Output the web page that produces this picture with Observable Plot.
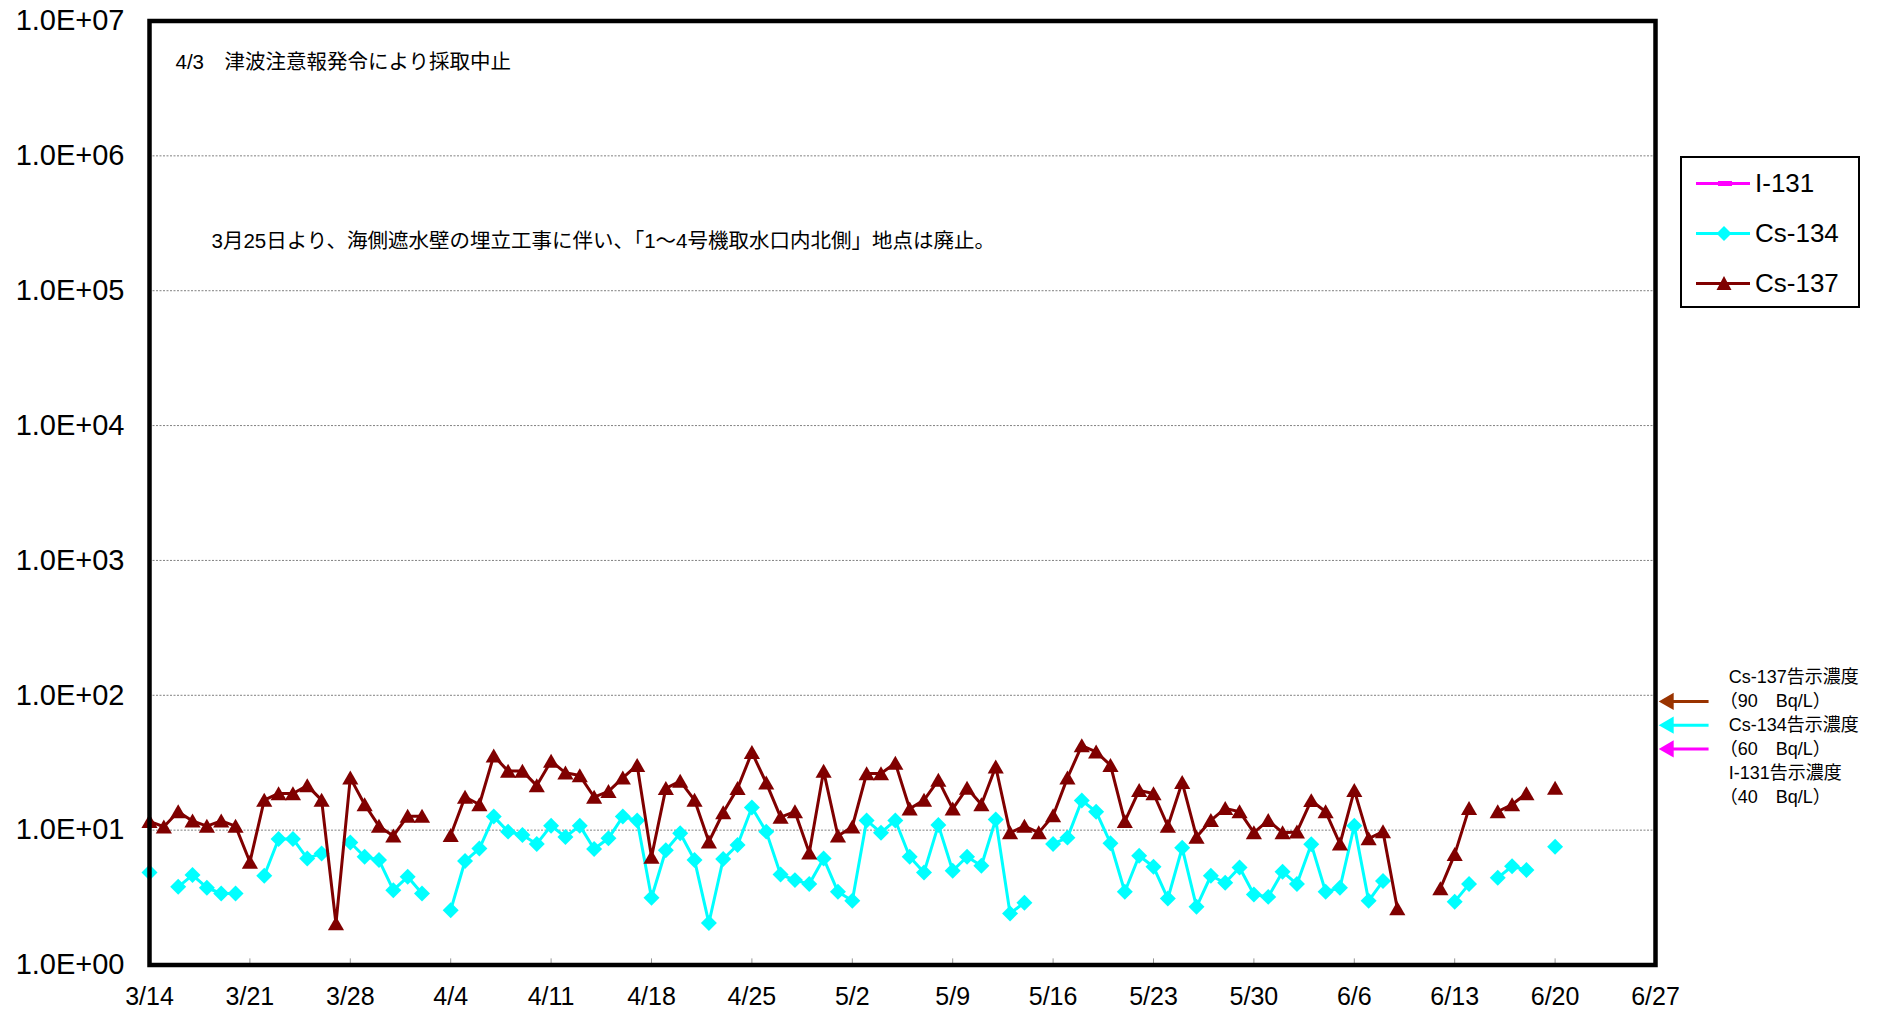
<!DOCTYPE html>
<html><head><meta charset="utf-8">
<script src="https://cdn.jsdelivr.net/npm/d3@7"></script>
<script src="https://cdn.jsdelivr.net/npm/@observablehq/plot@0.6"></script>
<style>
body{margin:0;background:#fff;overflow:hidden}
#wrap{position:relative;width:1881px;height:1013px}
#legend{position:absolute;left:1680px;top:156px;width:176px;height:148px;border:2px solid #000;background:#fff;font-family:"Liberation Sans",Arial,sans-serif;font-size:26px;color:#000}
.item{position:absolute;left:14px;height:34px;display:flex;align-items:center}
.item svg{margin-right:4px}
</style></head>
<body><div id="wrap"><div id="chart"></div><div id="legend"></div></div>
<script>
// ---- data ----
const year = 2015;
const startDay = "3/14"; // first sample day; one value per day after it
const cs137 = [11.6,10.6,13.7,11.7,10.7,11.7,10.7,5.8,16.7,18.7,18.7,21.4,16.7,2.03,24.4,15.5,10.7,9.06,12.7,12.7,
  null,9.15,17.6,15.5,35.6,27.4,27.4,21.4,32.5,26.6,25.4,17.6,19.4,24.4,30.3,6.32,20.4,23.1,16.7,8.2,
  13.5,20.4,37.7,22.4,12.5,13.7,6.8,27.4,9.06,10.6,26.3,26.3,31.4,14.4,16.7,23.5,14.4,20.5,15.5,29.5,
  9.58,10.7,9.58,12.8,24.4,42.3,38.1,30.3,11.6,19.7,18.7,10.7,22.6,8.9,11.8,14.5,13.7,9.58,11.8,9.58,
  9.7,16.6,13.7,7.9,19.7,8.65,9.75,2.62,null,null,3.69,6.61,14.5,null,13.7,15.5,18.7,null,20.5];
const cs134 = [4.86,null,3.80,4.64,3.74,3.39,3.39,null,4.59,8.6,8.6,6.17,6.72,null,8.1,6.35,6.0,3.59,4.51,3.39,
  null,2.55,5.9,7.3,12.6,9.75,9.2,7.9,10.8,8.9,10.8,7.25,8.7,12.6,11.8,3.15,7.1,9.47,6.0,2.05,
  6.1,7.76,14.7,9.75,4.69,4.26,3.98,6.17,3.49,2.99,11.8,9.58,11.8,6.35,4.86,10.9,5.0,6.35,5.45,12.0,
  2.41,2.9,null,7.9,8.8,16.6,13.7,8.0,3.49,6.46,5.35,3.11,7.4,2.7,4.59,4.07,5.29,3.33,3.2,4.92,
  3.98,7.85,3.49,3.74,10.8,2.99,4.19,null,null,null,null,2.95,3.98,null,4.43,5.4,5.06,null,7.54];
const xTickLabels = ["3/14","3/21","3/28","4/4","4/11","4/18","4/25","5/2","5/9","5/16","5/23","5/30","6/6","6/13","6/20","6/27"];
const yTickValues = [1,10,100,1000,10000,100000,1000000,10000000];
const yTickLabels = ["1.0E+00","1.0E+01","1.0E+02","1.0E+03","1.0E+04","1.0E+05","1.0E+06","1.0E+07"];
const seriesNames = ["I-131","Cs-134","Cs-137"];
const seriesColors = ["#FF00FF","#00FFFF","#800000"];
const limitNames = ["Cs-137","Cs-134","I-131"];
const limitValues = [90,60,40];
const limitColors = ["#993300","#00FFFF","#FF00FF"];
const note1 = "4/3\u3000津波注意報発令により採取中止";
const note2 = "3月25日より、海側遮水壁の埋立工事に伴い、「1～4号機取水口内北側」地点は廃止。";
const limitTitles = ["Cs-137告示濃度","Cs-134告示濃度","I-131告示濃度"];
const limitAmounts = ["（90\u3000Bq/L）","（60\u3000Bq/L）","（40\u3000Bq/L）"];

// ---- build ----
const DAY = 864e5;
const parse = s => { const [m, d] = s.split("/").map(Number); return new Date(Date.UTC(year, m - 1, d)); };
const start = parse(startDay);
const toRows = arr => arr.map((v, i) => ({date: new Date(start.getTime() + i * DAY), v: v == null ? NaN : v}));
const rows137 = toRows(cs137);
const rows134 = toRows(cs134);
const xTicks = xTickLabels.map(parse);
const xLabelOf = new Map(xTicks.map((d, i) => [+d, xTickLabels[i]]));
const yLabelOf = new Map(yTickValues.map((v, i) => [v, yTickLabels[i]]));
const xEnd = xTicks[xTicks.length - 1];
const after = n => () => new Date(xEnd.getTime() + n * DAY);
const limits = limitValues.map((v, i) => ({name: limitNames[i], value: v, color: limitColors[i]}));
const titleBlock = limitTitles.flatMap(t => [t, ""]).join("\n");
const amountBlock = limitAmounts.flatMap(t => ["", t]).join("\n");
const font = '"Liberation Sans", Arial, "Noto Sans CJK JP", sans-serif';
const noteOpts = {frameAnchor: "top-left", text: d => d, textAnchor: "start", lineAnchor: "middle", fontSize: 20.5};
const limitTextOpts = {x: after(5.1), y: () => 90, text: d => d, textAnchor: "start", lineAnchor: "middle", dy: 33.5, lineHeight: 1.333, fontSize: 18};

const chart = Plot.plot({
  width: 1881, height: 1013,
  marginLeft: 149, marginRight: 226, marginTop: 20.5, marginBottom: 48.5,
  x: {type: "utc", domain: [xTicks[0], xEnd], label: null},
  y: {type: "log", domain: [1, 1e7], label: null},
  color: {type: "identity"},
  style: {fontFamily: font, background: "white", color: "black", overflow: "visible"},
  marks: [
    Plot.ruleY(yTickValues.slice(1, -1), {stroke: "#808080", strokeWidth: 1, strokeDasharray: "2,1.5"}),
    Plot.ruleX(xTicks, {y1: 1, y2: 1.11, stroke: "#999", strokeWidth: 1}),
    Plot.line(rows134, {x: "date", y: "v", stroke: seriesColors[1], strokeWidth: 3}),
    Plot.dot(rows134, {x: "date", y: "v", symbol: "diamond2", r: 7.2, fill: seriesColors[1], stroke: "none"}),
    Plot.line(rows137, {x: "date", y: "v", stroke: seriesColors[2], strokeWidth: 3}),
    Plot.dot(rows137, {x: "date", y: "v", symbol: "triangle", r: 6.0, fill: seriesColors[2], stroke: "none", dy: 2}),
    Plot.frame({stroke: "black", strokeWidth: 4.5}),
    Plot.axisX({ticks: xTicks, tickFormat: d => xLabelOf.get(+d), tickSize: 0, tickPadding: 22, fontSize: 25, label: null}),
    Plot.axisY({ticks: yTickValues, tickFormat: v => yLabelOf.get(v), tickSize: 0, tickPadding: 25, fontSize: 29, label: null}),
    Plot.text([note1], {...noteOpts, dx: 26, dy: 41.5}),
    Plot.text([note2], {...noteOpts, dx: 62, dy: 220.5}),
    Plot.link(limits, {x1: after(0.75), x2: after(3.7), y1: "value", y2: "value", stroke: "color", strokeWidth: 3}),
    Plot.dot(limits, {x: after(0.92), y: "value", symbol: "triangle", r: 6.4, rotate: -90, fill: "color", stroke: "none"}),
    Plot.text([titleBlock], limitTextOpts),
    Plot.text([amountBlock], {...limitTextOpts, dx: -9})
  ]
});
document.getElementById("chart").appendChild(chart);

// ---- legend (HTML) ----
const legend = document.getElementById("legend");
seriesNames.forEach((name, i) => {
  const c = seriesColors[i];
  let sym = "";
  if (i === 0) sym = `<rect x="22" y="10" width="14" height="5" fill="${c}"/>`;
  if (i === 1) sym = `<path d="M28,5 L35.5,12.5 L28,20 L20.5,12.5Z" fill="${c}"/>`;
  if (i === 2) sym = `<path d="M28,5 L35.5,19 L20.5,19Z" fill="${c}"/>`;
  const div = document.createElement("div");
  div.className = "item";
  div.style.top = (8 + i * 50) + "px";
  div.innerHTML = `<svg width="55" height="25"><line x1="0" x2="54" y1="12.5" y2="12.5" stroke="${c}" stroke-width="3"/>${sym}</svg><span>${name}</span>`;
  legend.appendChild(div);
});
</script>
</body></html>
